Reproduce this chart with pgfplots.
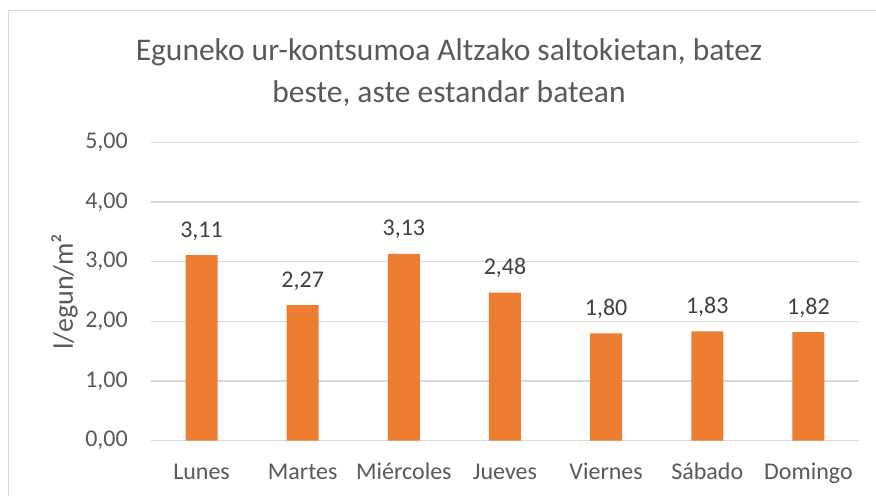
\documentclass[border=0pt]{standalone}
\usepackage{fontspec}
\setmainfont{Carlito}
\usepackage{pgfplots}
\pgfplotsset{compat=1.18}
\definecolor{barorange}{HTML}{ED7D31}
\definecolor{gridgray}{HTML}{D9D9D9}
\definecolor{txtgray}{HTML}{595959}
\definecolor{lblgray}{HTML}{404040}
\begin{document}
\begin{tikzpicture}[x=1pt,y=1pt]
\path[use as bounding box, fill=white] (0,0) rectangle (876,496);
\draw[gridgray, line width=1.3pt] (8.5,0) -- (8.5,485.5) -- (876,485.5);
\node[anchor=base, font=\fontsize{31.5}{38}\selectfont, text=txtgray] at (449,435) {Eguneko ur-kontsumoa Altzako saltokietan, batez};
\node[anchor=base, font=\fontsize{31.5}{38}\selectfont, text=txtgray] at (449,393) {beste, aste estandar batean};
\begin{axis}[
  at={(151pt,55.3pt)}, anchor=south west,
  scale only axis, width=708pt, height=298.4pt,
  xmin=-0.5, xmax=6.5, ymin=0, ymax=5,
  ybar, bar width=32pt,
  axis line style={draw=none},
  major tick length=0pt,
  xtick={0,1,2,3,4,5,6},
  xticklabels={Lunes,Martes,Miércoles,Jueves,Viernes,Sábado,Domingo},
  ytick={0,1,2,3,4,5},
  ymajorgrids, grid style={gridgray, line width=1.3pt},
  /pgf/number format/.cd, use comma, fixed, fixed zerofill, precision=2, 1000 sep={}, assume math mode=true,
  /pgfplots/.cd,
  xticklabel style={anchor=base, inner sep=0pt, yshift=-38.3pt, font=\fontsize{24}{29}\selectfont, text=txtgray},
  yticklabel style={anchor=east, inner sep=0pt, xshift=-23pt, font=\fontsize{24}{29}\selectfont, text=txtgray},
  ylabel={l/egun/m²},
  ylabel style={at={(axis description cs:-0.1102,0.5)}, anchor=base, rotate=0, inner sep=0pt, font=\fontsize{28}{34}\selectfont, text=txtgray},
  nodes near coords,
  every node near coord/.append style={anchor=base, yshift=18pt, inner sep=0pt, font=\fontsize{24}{29}\selectfont, text=lblgray},
]
\addplot[fill=barorange, draw=none, bar shift=0pt] coordinates {
  (0,3.11) (1,2.27) (2,3.13) (3,2.48) (4,1.80) (5,1.83) (6,1.82)
};
\end{axis}
\end{tikzpicture}
\end{document}
